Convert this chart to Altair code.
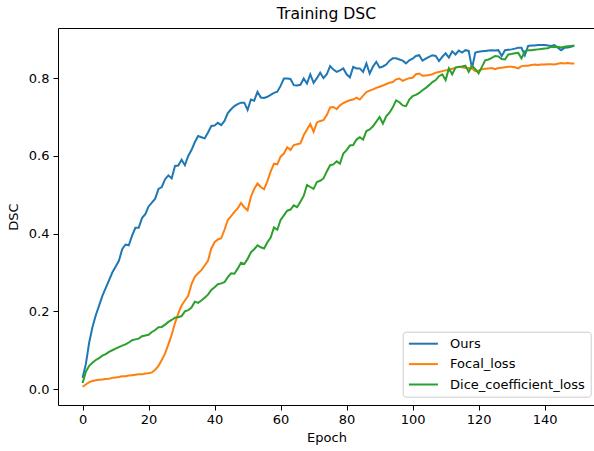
import altair as alt
import pandas as pd

epochs = list(range(150))

ours = [
    0.029, 0.065, 0.120, 0.160, 0.190, 0.215, 0.240, 0.260, 0.280, 0.300,
    0.315, 0.330, 0.360, 0.372, 0.370, 0.395, 0.415, 0.415, 0.440, 0.450,
    0.470, 0.480, 0.490, 0.515, 0.520, 0.540, 0.550, 0.542, 0.574, 0.575,
    0.590, 0.576, 0.600, 0.615, 0.635, 0.651, 0.648, 0.645, 0.660, 0.677,
    0.678, 0.685, 0.679, 0.690, 0.710, 0.720, 0.728, 0.733, 0.737, 0.737,
    0.718, 0.745, 0.742, 0.765, 0.750, 0.749, 0.752, 0.757, 0.762, 0.765,
    0.780, 0.799, 0.799, 0.798, 0.782, 0.781, 0.783, 0.799, 0.786, 0.810,
    0.788, 0.800, 0.814, 0.800, 0.810, 0.831, 0.822, 0.816, 0.820, 0.825,
    0.810, 0.802, 0.829, 0.825, 0.825, 0.816, 0.838, 0.812, 0.830, 0.842,
    0.827, 0.830, 0.835, 0.845, 0.851, 0.851, 0.848, 0.845, 0.838, 0.846,
    0.850, 0.857, 0.859, 0.845, 0.850, 0.855, 0.859, 0.857, 0.844, 0.855,
    0.864, 0.853, 0.869, 0.861, 0.871, 0.866, 0.872, 0.870, 0.825, 0.866,
    0.868, 0.869, 0.870, 0.871, 0.872, 0.871, 0.872, 0.857, 0.872, 0.873,
    0.874, 0.876, 0.878, 0.878, 0.859, 0.883, 0.884, 0.884, 0.885, 0.885,
    0.885, 0.884, 0.883, 0.885, 0.878, 0.872, 0.878, 0.879, 0.881, 0.883,
]

focal = [
    0.006, 0.012, 0.018, 0.021, 0.023, 0.024, 0.025, 0.026, 0.027, 0.029,
    0.030, 0.031, 0.033, 0.033, 0.035, 0.036, 0.037, 0.038, 0.038, 0.040,
    0.041, 0.043, 0.050, 0.060, 0.075, 0.092, 0.115, 0.140, 0.170, 0.195,
    0.215, 0.228, 0.240, 0.270, 0.289, 0.298, 0.306, 0.318, 0.330, 0.362,
    0.378, 0.385, 0.388, 0.410, 0.435, 0.445, 0.456, 0.465, 0.479, 0.468,
    0.460, 0.495, 0.515, 0.529, 0.520, 0.514, 0.535, 0.560, 0.580, 0.578,
    0.598, 0.606, 0.622, 0.615, 0.628, 0.630, 0.632, 0.653, 0.668, 0.682,
    0.662, 0.686, 0.690, 0.692, 0.705, 0.725, 0.726, 0.720, 0.730, 0.736,
    0.740, 0.743, 0.745, 0.750, 0.745, 0.755, 0.764, 0.768, 0.771, 0.775,
    0.778, 0.781, 0.785, 0.788, 0.790, 0.797, 0.799, 0.793, 0.797, 0.800,
    0.801, 0.810, 0.812, 0.806, 0.807, 0.808, 0.810, 0.814, 0.816, 0.818,
    0.820, 0.822, 0.824, 0.827, 0.829, 0.828, 0.826, 0.826, 0.825, 0.818,
    0.820, 0.823, 0.824, 0.825, 0.826, 0.823, 0.826, 0.827, 0.828, 0.829,
    0.829, 0.828, 0.825, 0.831, 0.832, 0.832, 0.834, 0.835, 0.834, 0.835,
    0.835, 0.836, 0.836, 0.835, 0.837, 0.839, 0.838, 0.839, 0.838, 0.838,
]

dice = [
    0.016, 0.045, 0.060, 0.068, 0.075, 0.080, 0.086, 0.090, 0.096, 0.100,
    0.104, 0.108, 0.112, 0.115, 0.120, 0.126, 0.128, 0.130, 0.136, 0.138,
    0.140, 0.147, 0.152, 0.159, 0.160, 0.166, 0.173, 0.178, 0.184, 0.185,
    0.188, 0.200, 0.203, 0.210, 0.225, 0.222, 0.228, 0.235, 0.243, 0.255,
    0.262, 0.270, 0.272, 0.275, 0.288, 0.298, 0.297, 0.310, 0.325, 0.322,
    0.335, 0.352, 0.360, 0.370, 0.365, 0.362, 0.378, 0.390, 0.416, 0.410,
    0.435, 0.447, 0.459, 0.462, 0.473, 0.468, 0.482, 0.497, 0.525, 0.520,
    0.515, 0.533, 0.536, 0.542, 0.560, 0.576, 0.578, 0.586, 0.580, 0.606,
    0.615, 0.627, 0.628, 0.642, 0.648, 0.642, 0.664, 0.668, 0.676, 0.688,
    0.700, 0.683, 0.702, 0.711, 0.725, 0.743, 0.738, 0.730, 0.728, 0.745,
    0.754, 0.757, 0.762, 0.769, 0.775, 0.782, 0.790, 0.795, 0.805, 0.810,
    0.795, 0.825, 0.810, 0.827, 0.829, 0.830, 0.832, 0.816, 0.832, 0.823,
    0.812, 0.829, 0.846, 0.848, 0.852, 0.857, 0.856, 0.849, 0.848, 0.861,
    0.862, 0.864, 0.865, 0.851, 0.869, 0.872, 0.872, 0.873, 0.874, 0.875,
    0.876, 0.877, 0.881, 0.880, 0.881, 0.879, 0.881, 0.882, 0.883, 0.884,
]

series_names = ["Ours", "Focal_loss", "Dice_coefficient_loss"]
series_colors = ["#1f77b4", "#ff7f0e", "#2ca02c"]
x_ticks = [0, 20, 40, 60, 80, 100, 120, 140]
y_ticks = [0.0, 0.2, 0.4, 0.6, 0.8]

rows = []
for name, vals in zip(series_names, [ours, focal, dice]):
    for e, v in zip(epochs, vals):
        rows.append({"Epoch": e, "DSC": v, "series": name})
df = pd.DataFrame(rows)

FONT = "DejaVu Sans"

x_scale = alt.Scale(domain=[-7.45, 155.27], nice=False, zero=False)
y_scale = alt.Scale(domain=[-0.0408, 0.929], nice=False, zero=False)

chart = alt.Chart(df).mark_line(strokeWidth=2, clip=True).encode(
    x=alt.X("Epoch:Q", scale=x_scale,
            axis=alt.Axis(values=x_ticks, title="Epoch", grid=False,
                          tickSize=5, labelPadding=3, titlePadding=5,
                          labelFontSize=13, titleFontSize=13,
                          titleFontWeight="normal", labelFont=FONT, titleFont=FONT,
                          domain=False, tickColor="black",
                          labelColor="black", titleColor="black",
                          labelFlush=False)),
    y=alt.Y("DSC:Q", scale=y_scale,
            axis=alt.Axis(values=y_ticks, format=".1f", title="DSC", grid=False,
                          tickSize=5, labelPadding=4, titlePadding=8,
                          labelFontSize=13, titleFontSize=13,
                          titleFontWeight="normal", labelFont=FONT, titleFont=FONT,
                          domain=False, tickColor="black",
                          labelColor="black", titleColor="black",
                          labelFlush=False)),
    color=alt.Color("series:N",
                    scale=alt.Scale(domain=series_names, range=series_colors),
                    sort=series_names,
                    legend=alt.Legend(
                        title=None, orient="none", legendX=344.7, legendY=303.7,
                        padding=5, strokeColor="#cccccc", fillColor="white",
                        cornerRadius=3, labelFontSize=13, labelFont=FONT,
                        labelColor="black", rowPadding=6.4,
                        symbolType="M-1,0H4", symbolSize=134.56,
                        symbolStrokeWidth=2, labelOffset=28.4)),
).properties(
    width=537,
    height=377,
    title=alt.Title("Training DSC", fontSize=15.6, font=FONT, fontWeight="normal",
                    anchor="middle", offset=5, color="black"),
    autosize=alt.AutoSizeParams(type="none"),
    padding={"left": 58, "top": 28, "right": -1, "bottom": 46},
).configure_view(stroke="black", strokeWidth=1)

chart.save("out.html", embed_options={"renderer": "svg", "actions": False})
